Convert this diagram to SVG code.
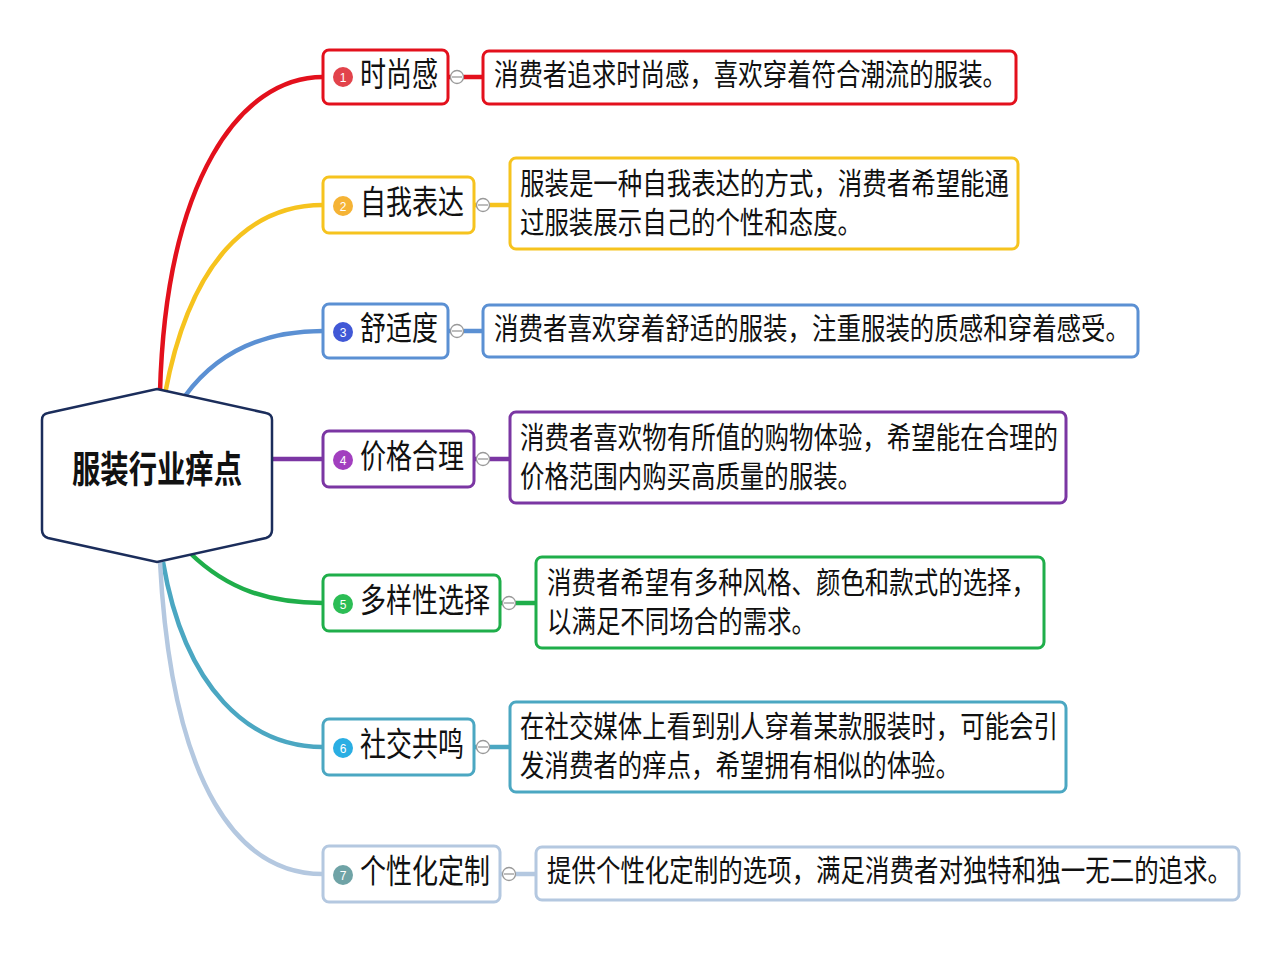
<svg xmlns="http://www.w3.org/2000/svg" width="1280" height="960" viewBox="0 0 1280 960">
<style>
.t{font-family:"Noto Sans CJK SC","Liberation Sans",sans-serif;font-size:30px;fill:#111}
.n{font-family:"Noto Sans CJK SC","Liberation Sans",sans-serif;font-size:33px;fill:#111}
.c{font-family:"Noto Sans CJK SC","Liberation Sans",sans-serif;font-size:37px;font-weight:bold;fill:#111}
.b{font-family:"Liberation Sans","Noto Sans",sans-serif;font-size:12px;fill:#fff;text-anchor:middle}
.box{fill:#fff;stroke-width:3}
.conn{fill:none;stroke-width:4.5}
.col{fill:#fff;stroke:#999;stroke-width:1.3}
.colm{stroke:#999;stroke-width:1.3}
</style>
<rect width="1280" height="960" fill="#fff"/>
<g id="connectors">
<path class="conn" stroke="#e3101c" d="M160,392 C166,180 240,77 323,77"/>
<path class="conn" stroke="#f6c31e" d="M165,394 C190,260 250,205 323,205"/>
<path class="conn" stroke="#5b90d3" d="M185,396 C220,348 270,331 323,331"/>
<path class="conn" stroke="#7b36a3" d="M272,459 L323,459"/>
<path class="conn" stroke="#1fae4a" d="M190,553 C228,590 270,603 323,603"/>
<path class="conn" stroke="#4ba7c2" d="M163,562 C185,690 250,747 323,747"/>
<path class="conn" stroke="#b4c8e0" d="M160,562 C172,790 240,874 323,874"/>
<path class="conn" stroke="#e3101c" d="M448,77 L483,77"/>
<path class="conn" stroke="#f6c31e" d="M474,205 L510,205"/>
<path class="conn" stroke="#5b90d3" d="M448,331 L483,331"/>
<path class="conn" stroke="#7b36a3" d="M474,459 L510,459"/>
<path class="conn" stroke="#1fae4a" d="M500,603 L536,603"/>
<path class="conn" stroke="#4ba7c2" d="M474,747 L510,747"/>
<path class="conn" stroke="#b4c8e0" d="M500,874 L536,874"/>
</g>
<g id="root">
<path d="M157,389 L266,413 Q272,414 272,420 L272,530 Q272,536 266,538 L157,562 L48,538 Q42,536 42,530 L42,420 Q42,414 48,413 Z" fill="#fff" stroke="#1b2d5b" stroke-width="2.5"/>
<text class="c" x="72" y="483" textLength="170" lengthAdjust="spacingAndGlyphs">服装行业痒点</text>
</g>
<g id="node1">
<rect class="box" stroke="#e3101c" x="323" y="50" width="125" height="54" rx="6"/>
<circle cx="343" cy="77" r="10" fill="#e2434b"/><text class="b" x="343" y="81.5">1</text>
<text class="n" x="360" y="86" textLength="78" lengthAdjust="spacingAndGlyphs">时尚感</text>
<circle class="col" cx="457" cy="77" r="6.5"/><line class="colm" x1="452" y1="77" x2="462" y2="77"/>
</g>
<g id="detail1">
<rect class="box" stroke="#e3101c" x="483" y="51" width="533" height="53" rx="6"/>
<text class="t" x="494" y="85" textLength="513" lengthAdjust="spacingAndGlyphs">消费者追求时尚感，喜欢穿着符合潮流的服装。</text>
</g>
<g id="node2">
<rect class="box" stroke="#f6c31e" x="323" y="177" width="151" height="56" rx="6"/>
<circle cx="343" cy="206" r="10" fill="#f5b335"/><text class="b" x="343" y="210.5">2</text>
<text class="n" x="360" y="214" textLength="104" lengthAdjust="spacingAndGlyphs">自我表达</text>
<circle class="col" cx="483" cy="205" r="6.5"/><line class="colm" x1="478" y1="205" x2="488" y2="205"/>
</g>
<g id="detail2">
<rect class="box" stroke="#f6c31e" x="510" y="158" width="508" height="91" rx="6"/>
<text class="t" x="520" y="194" textLength="489" lengthAdjust="spacingAndGlyphs">服装是一种自我表达的方式，消费者希望能通</text>
<text class="t" x="520" y="233" textLength="342" lengthAdjust="spacingAndGlyphs">过服装展示自己的个性和态度。</text>
</g>
<g id="node3">
<rect class="box" stroke="#5b90d3" x="323" y="304" width="125" height="54" rx="6"/>
<circle cx="343" cy="332" r="10" fill="#4158d6"/><text class="b" x="343" y="336.5">3</text>
<text class="n" x="360" y="340" textLength="78" lengthAdjust="spacingAndGlyphs">舒适度</text>
<circle class="col" cx="457" cy="331" r="6.5"/><line class="colm" x1="452" y1="331" x2="462" y2="331"/>
</g>
<g id="detail3">
<rect class="box" stroke="#5b90d3" x="483" y="305" width="655" height="52" rx="6"/>
<text class="t" x="494" y="339" textLength="636" lengthAdjust="spacingAndGlyphs">消费者喜欢穿着舒适的服装，注重服装的质感和穿着感受。</text>
</g>
<g id="node4">
<rect class="box" stroke="#7b36a3" x="323" y="431" width="151" height="56" rx="6"/>
<circle cx="343" cy="460" r="10" fill="#a23fbf"/><text class="b" x="343" y="464.5">4</text>
<text class="n" x="360" y="468" textLength="104" lengthAdjust="spacingAndGlyphs">价格合理</text>
<circle class="col" cx="483" cy="459" r="6.5"/><line class="colm" x1="478" y1="459" x2="488" y2="459"/>
</g>
<g id="detail4">
<rect class="box" stroke="#7b36a3" x="510" y="412" width="556" height="91" rx="6"/>
<text class="t" x="520" y="448" textLength="538" lengthAdjust="spacingAndGlyphs">消费者喜欢物有所值的购物体验，希望能在合理的</text>
<text class="t" x="520" y="487" textLength="342" lengthAdjust="spacingAndGlyphs">价格范围内购买高质量的服装。</text>
</g>
<g id="node5">
<rect class="box" stroke="#1fae4a" x="323" y="575" width="177" height="56" rx="6"/>
<circle cx="343" cy="604" r="10" fill="#2cbd55"/><text class="b" x="343" y="608.5">5</text>
<text class="n" x="360" y="612" textLength="130" lengthAdjust="spacingAndGlyphs">多样性选择</text>
<circle class="col" cx="509" cy="603" r="6.5"/><line class="colm" x1="504" y1="603" x2="514" y2="603"/>
</g>
<g id="detail5">
<rect class="box" stroke="#1fae4a" x="536" y="557" width="508" height="91" rx="6"/>
<text class="t" x="547" y="593" textLength="489" lengthAdjust="spacingAndGlyphs">消费者希望有多种风格、颜色和款式的选择，</text>
<text class="t" x="547" y="632" textLength="269" lengthAdjust="spacingAndGlyphs">以满足不同场合的需求。</text>
</g>
<g id="node6">
<rect class="box" stroke="#4ba7c2" x="323" y="719" width="151" height="56" rx="6"/>
<circle cx="343" cy="748" r="10" fill="#2aaee3"/><text class="b" x="343" y="752.5">6</text>
<text class="n" x="360" y="756" textLength="104" lengthAdjust="spacingAndGlyphs">社交共鸣</text>
<circle class="col" cx="483" cy="747" r="6.5"/><line class="colm" x1="478" y1="747" x2="488" y2="747"/>
</g>
<g id="detail6">
<rect class="box" stroke="#4ba7c2" x="510" y="702" width="556" height="90" rx="6"/>
<text class="t" x="520" y="737" textLength="538" lengthAdjust="spacingAndGlyphs">在社交媒体上看到别人穿着某款服装时，可能会引</text>
<text class="t" x="520" y="776" textLength="440" lengthAdjust="spacingAndGlyphs">发消费者的痒点，希望拥有相似的体验。</text>
</g>
<g id="node7">
<rect class="box" stroke="#b4c8e0" x="323" y="846" width="177" height="56" rx="6"/>
<circle cx="343" cy="875" r="10" fill="#6fa3a6"/><text class="b" x="343" y="879.5">7</text>
<text class="n" x="360" y="883" textLength="130" lengthAdjust="spacingAndGlyphs">个性化定制</text>
<circle class="col" cx="509" cy="874" r="6.5"/><line class="colm" x1="504" y1="874" x2="514" y2="874"/>
</g>
<g id="detail7">
<rect class="box" stroke="#b4c8e0" x="536" y="847" width="703" height="53" rx="6"/>
<text class="t" x="547" y="881" textLength="685" lengthAdjust="spacingAndGlyphs">提供个性化定制的选项，满足消费者对独特和独一无二的追求。</text>
</g>
</svg>
